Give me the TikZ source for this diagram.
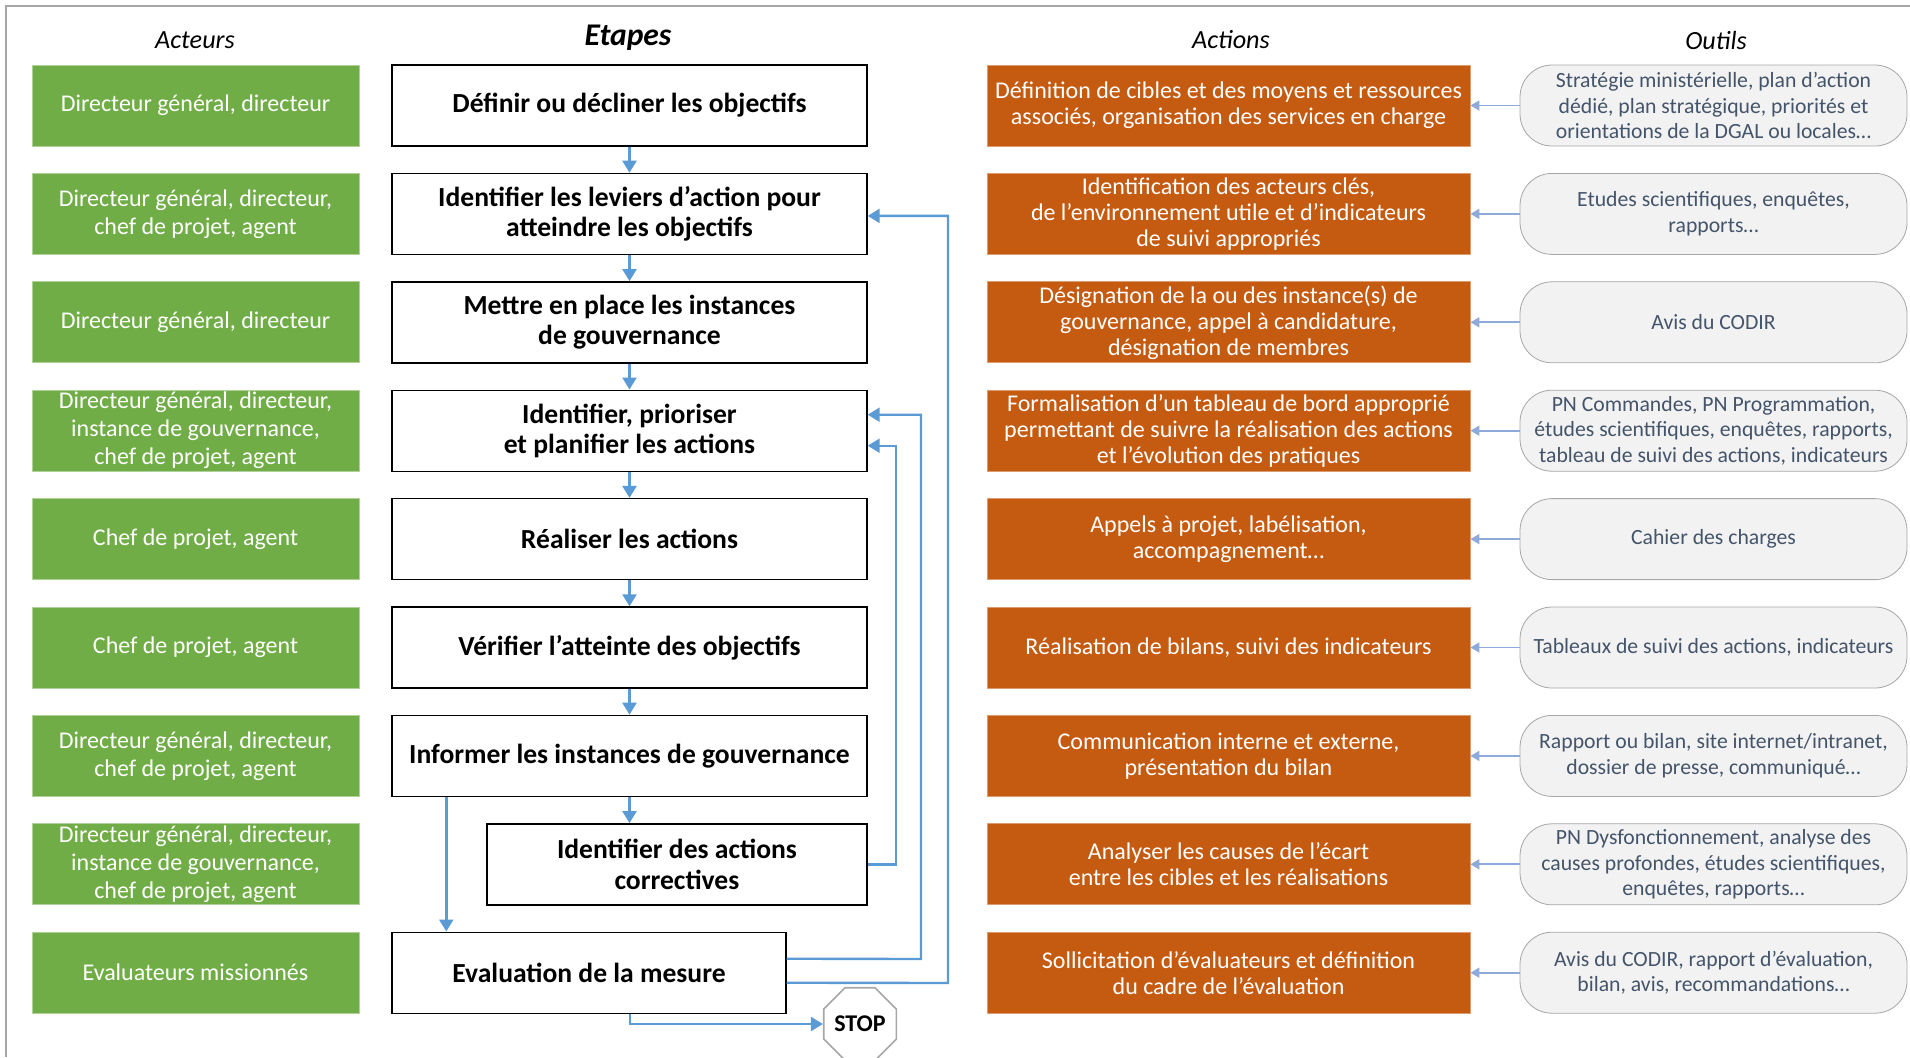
\documentclass[tikz,border=0pt]{standalone}
\usepackage{fontspec}
\setmainfont{Carlito}
\usetikzlibrary{shapes.geometric,arrows.meta,calc}
\definecolor{vert}{HTML}{70AD47}
\definecolor{orange}{HTML}{C55A11}
\definecolor{bleu}{HTML}{5B9BD5}
\definecolor{bleuclair}{HTML}{8EAADB}
\definecolor{gristxt}{HTML}{44546A}
\definecolor{grisbord}{HTML}{A6A6A6}
\definecolor{grisfond}{HTML}{F2F2F2}

\begin{document}
\begin{tikzpicture}[x=0.5pt,y=-0.5pt,
  acteur/.style={fill=vert, draw=vert!55!white, line width=0.4pt, text=white, minimum width=163.5pt, minimum height=40.5pt, align=center, inner sep=0pt, font=\fontsize{12}{14}\selectfont},
  etape/.style={draw=black, line width=0.7pt, fill=white, minimum width=237.5pt, minimum height=40.5pt, align=center, inner sep=0pt, font=\bfseries\fontsize{13.8}{15.2}\selectfont},
  action/.style={fill=orange, draw=orange!60!white, line width=0.4pt, text=white, minimum width=241.5pt, minimum height=40.5pt, align=center, inner sep=0pt, font=\fontsize{12}{13}\selectfont},
  outil/.style={draw=grisbord, fill=grisfond, text=gristxt, rounded corners=16pt, minimum width=193.5pt, minimum height=40.5pt, align=center, inner sep=0pt, font=\fontsize{10.85}{12.8}\selectfont},
  titre/.style={font=\itshape\fontsize{13.1}{15}\selectfont},
  flow/.style={draw=bleu, line width=1.2pt, -{Triangle[length=6pt,width=7pt]}},
  lien/.style={draw=bleuclair, line width=0.9pt, -{Triangle[length=4.5pt,width=5pt]}}]
\useasboundingbox (0,0) rectangle (1910,1057);
\draw[grisbord, line width=0.8pt] (6,1057) -- (6,6) -- (1910,6);

% titres
\node[titre] (tacteurs) at (195,40) {Acteurs};
\node[titre, font=\bfseries\itshape\fontsize{15.8}{18}\selectfont] (tetapes) at (628,38) {Etapes};
\node[titre] (tactions) at (1231,40) {Actions};
\node[titre] (toutils) at (1716,40) {Outils};

% acteurs
\node[acteur] (act1) at (195.5,105.5) {Directeur général, directeur};
\node[acteur] (act2) at (195.5,213.9) {Directeur général, directeur,\\chef de projet, agent};
\node[acteur] (act3) at (195.5,322.3) {Directeur général, directeur};
\node[acteur] (act4) at (195.5,430.7) {Directeur général, directeur,\\instance de gouvernance,\\chef de projet, agent};
\node[acteur] (act5) at (195.5,539.1) {Chef de projet, agent};
\node[acteur] (act6) at (195.5,647.5) {Chef de projet, agent};
\node[acteur] (act7) at (195.5,755.9) {Directeur général, directeur,\\chef de projet, agent};
\node[acteur] (act8) at (195.5,864.3) {Directeur général, directeur,\\instance de gouvernance,\\chef de projet, agent};
\node[acteur] (act9) at (195.5,972.7) {Evaluateurs missionnés};

% etapes
\node[etape] (etape1) at (629.5,105.5) {Définir ou décliner les objectifs};
\node[etape] (etape2) at (629.5,213.9) {Identifier les leviers d’action pour\\atteindre les objectifs};
\node[etape] (etape3) at (629.5,322.3) {Mettre en place les instances\\de gouvernance};
\node[etape] (etape4) at (629.5,430.7) {Identifier, prioriser\\et planifier les actions};
\node[etape] (etape5) at (629.5,539.1) {Réaliser les actions};
\node[etape] (etape6) at (629.5,647.5) {Vérifier l’atteinte des objectifs};
\node[etape] (etape7) at (629.5,755.9) {Informer les instances de gouvernance};
\node[etape, minimum width=190pt] (etape8) at (677,864.3) {Identifier des actions\\correctives};
\node[etape, minimum width=197pt] (etape9) at (589,972.7) {Evaluation de la mesure};
\node[draw=grisbord, fill=white, line width=0.8pt, regular polygon, regular polygon sides=8, minimum size=33pt, inner sep=0pt, font=\bfseries\fontsize{12}{14}\selectfont] (stop) at (860,1024) {STOP};

% actions
\node[action] (action1) at (1228.5,105.5) {Définition de cibles et des moyens et ressources\\associés, organisation des services en charge};
\node[action] (action2) at (1228.5,213.9) {Identification des acteurs clés,\\de l’environnement utile et d’indicateurs\\de suivi appropriés};
\node[action] (action3) at (1228.5,322.3) {Désignation de la ou des instance(s) de\\gouvernance, appel à candidature,\\désignation de membres};
\node[action] (action4) at (1228.5,430.7) {Formalisation d’un tableau de bord approprié\\permettant de suivre la réalisation des actions\\et l’évolution des pratiques};
\node[action] (action5) at (1228.5,539.1) {Appels à projet, labélisation,\\accompagnement…};
\node[action] (action6) at (1228.5,647.5) {Réalisation de bilans, suivi des indicateurs};
\node[action] (action7) at (1228.5,755.9) {Communication interne et externe,\\présentation du bilan};
\node[action] (action8) at (1228.5,864.3) {Analyser les causes de l’écart\\entre les cibles et les réalisations};
\node[action] (action9) at (1228.5,972.7) {Sollicitation d’évaluateurs et définition\\du cadre de l’évaluation};

% outils
\node[outil] (outil1) at (1713.5,105.5) {Stratégie ministérielle, plan d’action\\dédié, plan stratégique, priorités et\\orientations de la DGAL ou locales…};
\node[outil] (outil2) at (1713.5,213.9) {Etudes scientifiques, enquêtes,\\rapports…};
\node[outil] (outil3) at (1713.5,322.3) {Avis du CODIR};
\node[outil] (outil4) at (1713.5,430.7) {PN Commandes, PN Programmation,\\études scientifiques, enquêtes, rapports,\\tableau de suivi des actions, indicateurs};
\node[outil] (outil5) at (1713.5,539.1) {Cahier des charges};
\node[outil] (outil6) at (1713.5,647.5) {Tableaux de suivi des actions, indicateurs};
\node[outil] (outil7) at (1713.5,755.9) {Rapport ou bilan, site internet/intranet,\\dossier de presse, communiqué…};
\node[outil] (outil8) at (1713.5,864.3) {PN Dysfonctionnement, analyse des\\causes profondes, études scientifiques,\\enquêtes, rapports…};
\node[outil] (outil9) at (1713.5,972.7) {Avis du CODIR, rapport d’évaluation,\\bilan, avis, recommandations…};

% enchainement des etapes
\draw[flow] (etape1) -- (etape2);
\draw[flow] (etape2) -- (etape3);
\draw[flow] (etape3) -- (etape4);
\draw[flow] (etape4) -- (etape5);
\draw[flow] (etape5) -- (etape6);
\draw[flow] (etape6) -- (etape7);
\draw[flow] (etape7.south) -- (etape7.south |- etape8.north);
\coordinate (d7) at ($(etape7.south west)+(55,0)$);
\draw[flow] (d7) -- (d7 |- etape9.north);
\coordinate (d9) at ($(etape9.south)+(41,0)$);
\draw[flow] (d9) |- (stop.west);

% boucles de retour
\draw[flow] (etape8.east) -- ++(28,0) |- ($(etape4.east)+(0,15)$);
\draw[flow] ($(etape9.east)+(0,-14)$) -- (921,959) |- ($(etape4.east)+(0,-16)$);
\draw[flow] ($(etape9.east)+(0,10)$) -- (948,983) |- ($(etape2.east)+(0,2)$);

% outils vers actions
\foreach \i in {1,...,9}
  \draw[lien] (outil\i.west) -- (action\i.east);
\end{tikzpicture}
\end{document}
